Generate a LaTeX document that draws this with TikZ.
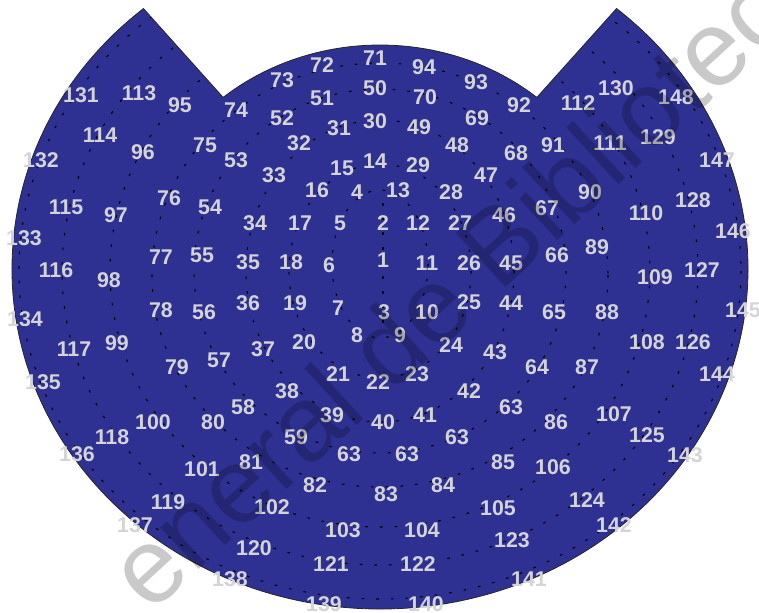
\documentclass[tikz,border=0pt]{standalone}
\usepackage{fontspec}
\setmainfont{Liberation Sans}
\usetikzlibrary{calc}
\definecolor{dialBlue}{HTML}{2E3192}
\definecolor{dialNum}{HTML}{D3D3D8}
\newcommand{\dialshape}{($(380,269)+(230:368 and 340)$)
  arc[start angle=230,end angle=-50,x radius=368,y radius=340]
  -- ($(380,269)+(-50:244 and 224)$)
  arc[start angle=-50,end angle=-130,x radius=244,y radius=224] -- cycle}

\begin{document}
\begin{tikzpicture}[x=0.75pt,y=-0.75pt,
  num/.style={text=dialNum,font=\fontsize{16}{18}\selectfont\bfseries,inner sep=0pt},
  ringline/.style={black,line width=0.8pt,dash pattern=on 2pt off 9pt},
  rim/.style={draw=black!85,line width=0.6pt}]
  \useasboundingbox (0,0) rectangle (759,612);
  \fill[dialBlue] \dialshape;
  \begin{scope}
    \clip \dialshape;
    \coordinate (axisTop) at (383,203);
    \coordinate (axisBot) at (383,326);
    \draw[ringline] (axisTop) -- (axisBot);
    \foreach \cy/\rx/\ry in {264/48/74,271/91/107,271/134/151,271/186/182,
                             275/228/212,271/270/256,271/318/294,271/361/328}
      \draw[ringline] (380,\cy) ellipse[x radius=\rx,y radius=\ry];
  \end{scope}
  \path[rim] \dialshape;
  \foreach \t/\x/\y [count=\i] in {
      1/383/260, 2/383/223, 3/384/312,
      4/357/192, 5/340/223, 6/329/265, 7/338/308, 8/357/335, 9/400/335,
      10/427/312, 11/427/263, 12/418/223, 13/398/190,
      14/375/161, 15/342/168, 16/317/190, 17/300/223, 18/291/262, 19/295/303,
      20/304/342, 21/338/374, 22/378/382, 23/417/374, 24/451/345, 25/469/302,
      26/469/263, 27/460/223, 28/451/192, 29/418/165,
      30/375/121, 31/339/128, 32/299/143, 33/274/175, 34/255/223, 35/248/262,
      36/248/303, 37/263/349, 38/287/391, 39/332/415, 40/383/422, 41/425/415,
      42/469/391, 43/495/352, 44/511/303, 45/511/263, 46/504/215, 47/486/175,
      48/457/145, 49/419/127,
      50/375/88, 51/322/98, 52/282/118, 53/236/160, 54/210/207, 55/202/255,
      56/204/312, 57/219/360, 58/243/407, 59/296/437, 63/349/454, 63/407/454,
      63/457/437, 63/511/407, 64/537/367, 65/554/312, 66/557/255, 67/547/208,
      68/516/153, 69/477/118, 70/425/97,
      71/375/58, 72/322/65, 73/282/80, 74/236/110, 75/205/145, 76/169/198,
      77/161/257, 78/161/310, 79/177/367, 80/213/422, 81/251/462, 82/315/485,
      83/386/494, 84/443/485, 85/503/462, 86/556/422, 87/587/367, 88/607/312,
      89/597/247, 90/590/192, 91/553/145, 92/519/105, 93/476/82, 94/424/67,
      95/180/105, 96/143/152, 97/116/215, 98/109/280, 99/117/343, 100/153/422,
      101/202/469, 102/272/507, 103/343/530, 104/422/530, 105/498/508,
      106/553/467, 107/614/414, 108/647/342, 109/655/277, 110/646/213,
      111/610/143, 112/578/103,
      113/139/93, 114/100/135, 115/66/207, 116/56/270, 117/74/349, 118/112/437,
      119/168/502, 120/254/548, 121/331/564, 122/418/564, 123/512/540,
      124/587/500, 125/647/435, 126/693/342, 127/702/270, 128/693/200,
      129/658/137, 130/616/88,
      131/81/95, 132/41/160, 133/24/238, 134/25/319, 135/43/382, 136/77/454,
      137/135/525, 138/230/579, 139/324/604, 140/426/604, 141/529/579,
      142/614/525, 143/685/455, 144/717/374, 145/743/310, 146/733/231,
      147/717/160, 148/676/97}
    \node[num] (cell\i) at (\x,\y) {\t};
  \begin{scope}
    \clip (0,0) rectangle (759,612);
    \node[rotate=42.5,anchor=base west,inner sep=0pt,text=black,text opacity=0.21,
          font=\fontsize{80}{90}\selectfont] (mark) at (150,614.5) {eneral de Bibliotec};
  \end{scope}
\end{tikzpicture}
\end{document}
